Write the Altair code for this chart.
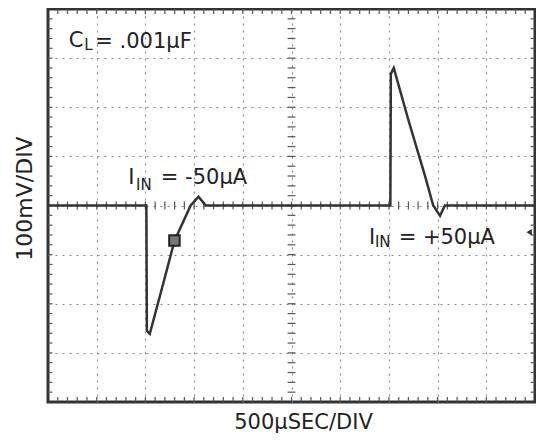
import altair as alt
import pandas as pd

# ---- trace (divisions: x 0..10, y -4..4) ----
trace_x = [0, 2.02, 2.03, 2.09, 2.32, 2.60, 2.80, 2.93, 3.09, 3.24,
           7.03, 7.04, 7.10, 7.40, 7.74, 7.91, 8.05, 8.15, 10]
trace_y = [0, 0, -2.55, -2.61, -1.76, -0.71, -0.28, 0, 0.18, 0,
           0, 2.68, 2.80, 1.74, 0.61, 0, -0.21, 0, 0]

# ---- annotations ----
label_text = ["C", "L", "= .001µF", "I", "IN", "= -50µA", "I", "IN", "= +50µA"]
label_x = [0.427, 0.742, 0.970, 1.646, 1.809, 2.317, 6.59, 6.713, 7.20]
label_y = [3.226, 3.158, 3.212, 0.430, 0.323, 0.430, -0.782, -0.848, -0.788]
label_size = [21, 15, 21, 21, 15, 21, 21, 15, 21]

marker_x = [2.596]
marker_y = [-0.713]
trig_x = [9.88]
trig_y = [-0.545]

# graticule
major_x = [1, 2, 3, 4, 5, 6, 7, 8, 9]
major_y = [-3, -2, -1, 0, 1, 2, 3]
minor_x = [i / 5 for i in range(1, 50)]
minor_y = [i / 5 - 4 for i in range(1, 40)]

trace = pd.DataFrame({"x": trace_x, "y": trace_y, "i": range(len(trace_x))})
labels = pd.DataFrame({"x": label_x, "y": label_y, "t": label_text, "s": label_size})
marker = pd.DataFrame({"x": marker_x, "y": marker_y})
trig = pd.DataFrame({"x": trig_x, "y": trig_y})

rows = []
for t in minor_x:
    rows.append((t, t, -0.08, 0.08))
    rows.append((t, t, -4, -3.9))
    rows.append((t, t, 4, 3.9))
for t in minor_y:
    rows.append((4.92, 5.08, t, t))
    rows.append((0, 0.09, t, t))
    rows.append((10, 9.91, t, t))
ticks = pd.DataFrame(rows, columns=["x", "x2", "y", "y2"])

xs = alt.Scale(domain=[0, 10], nice=False, zero=False)
ys = alt.Scale(domain=[-4, 4], nice=False, zero=False)

xaxis = alt.Axis(values=major_x, grid=True, labels=False, ticks=False, domain=False,
                 title="500µSEC/DIV", titlePadding=9, titleX=255, titleFontSize=21)
yaxis = alt.Axis(values=major_y, grid=True, labels=False, ticks=False, domain=False,
                 title="100mV/DIV", titlePadding=12, titleY=189)

base_grid = alt.Chart(trace).mark_line(opacity=0).encode(
    x=alt.X("x:Q", scale=xs, axis=xaxis),
    y=alt.Y("y:Q", scale=ys, axis=yaxis),
)

tick_layer = alt.Chart(ticks).mark_rule(color="#555", strokeWidth=1.2).encode(
    x=alt.X("x:Q", scale=xs), x2="x2:Q",
    y=alt.Y("y:Q", scale=ys), y2="y2:Q",
)

line = alt.Chart(trace).mark_line(color="#333", strokeWidth=2.5, strokeJoin="miter").encode(
    x=alt.X("x:Q", scale=xs),
    y=alt.Y("y:Q", scale=ys),
    order="i:Q",
)

sq = alt.Chart(marker).mark_square(size=110, filled=True, color="#777",
                                    stroke="#222", strokeWidth=2, opacity=1).encode(
    x=alt.X("x:Q", scale=xs), y=alt.Y("y:Q", scale=ys))

tri = alt.Chart(trig).mark_point(shape="triangle-left", filled=True, size=40,
                                  color="#333", opacity=1).encode(
    x=alt.X("x:Q", scale=xs), y=alt.Y("y:Q", scale=ys))

txt = alt.Chart(labels).mark_text(align="left", baseline="alphabetic",
                                   font="DejaVu Sans", color="#222").encode(
    x=alt.X("x:Q", scale=xs), y=alt.Y("y:Q", scale=ys),
    text="t:N",
    size=alt.Size("s:Q", scale=None, legend=None),
)

chart = alt.layer(base_grid, tick_layer, line, sq, tri, txt).properties(
    width=487, height=393,
    autosize=alt.AutoSizeParams(type="none"),
    padding={"left": 40, "top": 1, "right": 1, "bottom": 32},
).configure_view(
    stroke="#333", strokeWidth=3
).configure_axis(
    gridColor="#8a8a8a", gridDash=[2, 5], gridWidth=1.1,
    titleFont="DejaVu Sans", titleFontSize=22, titleFontWeight="normal", titleColor="#222",
)

chart.save("out.html", embed_options={"renderer": "svg", "actions": False})
